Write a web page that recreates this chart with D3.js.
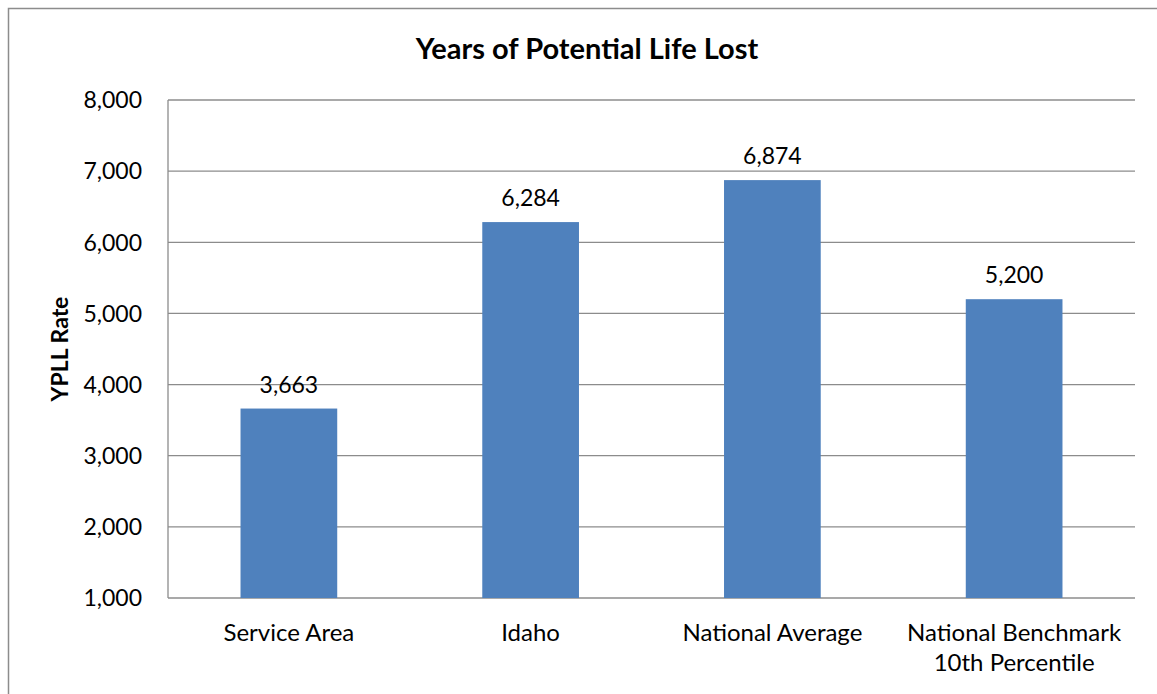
<!DOCTYPE html>
<html><head><meta charset="utf-8">
<script src="https://cdn.jsdelivr.net/npm/d3@7"></script>
<style>body{margin:0;background:#fff;} svg{display:block;}</style>
</head><body>
<svg id="c" width="1157" height="694"></svg>
<script>
const categories = [["Service Area"], ["Idaho"], ["National Average"], ["National Benchmark", "10th Percentile"]];
const values = [3663, 6284, 6874, 5200];
const yTicks = [1000, 2000, 3000, 4000, 5000, 6000, 7000, 8000];
const title = "Years of Potential Life Lost";
const yLabel = "YPLL Rate";

const font = "Lato, 'Open Sans', sans-serif";
const svg = d3.select("#c");
svg.append("rect").attr("x", 8.5).attr("y", 8.5).attr("width", 1160).attr("height", 700)
  .attr("fill", "#fff").attr("stroke", "#8c8c8c").attr("stroke-width", 1.5);

const m = {l: 168, t: 100, r: 1135, b: 598};
const x = d3.scaleBand().domain(d3.range(categories.length)).range([m.l, m.r]).paddingInner(0.6).paddingOuter(0.3);
const y = d3.scaleLinear().domain([1000, 8000]).range([m.b, m.t]);

const g = svg.append("g");
g.selectAll("line.grid").data(yTicks).join("line")
  .attr("x1", m.l).attr("x2", m.r).attr("y1", d => y(d)).attr("y2", d => y(d))
  .attr("stroke", "#8c8c8c").attr("stroke-width", 1.3);
g.append("line").attr("x1", m.l).attr("x2", m.l).attr("y1", m.t).attr("y2", m.b)
  .attr("stroke", "#8c8c8c").attr("stroke-width", 1.3);

const fmt = d3.format(",");
g.selectAll("text.yt").data(yTicks).join("text")
  .attr("x", m.l - 26).attr("y", d => y(d)).attr("dy", "0.36em")
  .attr("text-anchor", "end").attr("font-family", font).attr("font-size", 23).attr("fill", "#000")
  .text(d => fmt(d));

g.selectAll("rect.bar").data(values).join("rect")
  .attr("x", (d, i) => x(i)).attr("width", x.bandwidth())
  .attr("y", d => y(d)).attr("height", d => y(1000) - y(d))
  .attr("fill", "#4F81BD");

g.selectAll("text.dl").data(values).join("text")
  .attr("x", (d, i) => x(i) + x.bandwidth() / 2).attr("y", d => y(d) - 16)
  .attr("text-anchor", "middle").attr("font-family", font).attr("font-size", 23).attr("fill", "#000")
  .text(d => fmt(d));

const xl = g.selectAll("text.xl").data(categories).join("text")
  .attr("x", (d, i) => x(i) + x.bandwidth() / 2).attr("y", 641)
  .attr("text-anchor", "middle").attr("font-family", font).attr("font-size", 24).attr("fill", "#000");
xl.selectAll("tspan").data(d => d).join("tspan")
  .attr("x", function() { return d3.select(this.parentNode).attr("x"); })
  .attr("dy", (d, j) => j === 0 ? 0 : 30).text(d => d);

svg.append("text").attr("x", 587).attr("y", 59).attr("text-anchor", "middle")
  .attr("font-family", font).attr("font-size", 29).attr("font-weight", "bold").text(title);

svg.append("text").attr("transform", `translate(68,${(m.t + m.b) / 2}) rotate(-90)`)
  .attr("text-anchor", "middle").attr("font-family", font).attr("font-size", 23).attr("font-weight", "bold").text(yLabel);
</script>
</body></html>
